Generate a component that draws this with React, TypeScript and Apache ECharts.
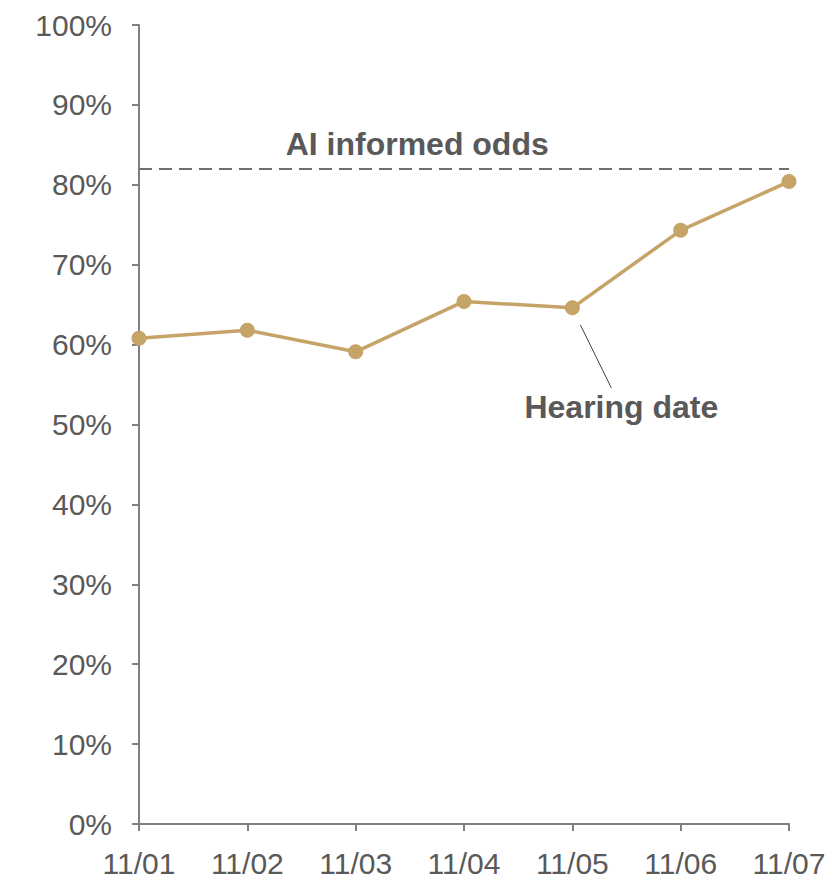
import React, { useEffect, useRef } from "react";
import * as echarts from "echarts";

const dates = ["11/01", "11/02", "11/03", "11/04", "11/05", "11/06", "11/07"];
const odds = [60.8, 61.8, 59.1, 65.4, 64.6, 74.3, 80.4];
const aiOdds = 82;
const hearingIndex = 4;
const yTicks = [0, 10, 20, 30, 40, 50, 60, 70, 80, 90, 100];

const GOLD = "#C6A468";
const TEXT = "#595959";
const AXIS = "#7F7F7F";
const FONT = "'Liberation Sans', Arial, sans-serif";

export default function App() {
  const ref = useRef<HTMLDivElement>(null);

  useEffect(() => {
    if (!ref.current) return;
    const chart = echarts.init(ref.current, null, { renderer: "svg" });
    chart.setOption({
      animation: false,
      grid: { left: 139, right: 44, top: 25, bottom: 53 },
      xAxis: {
        type: "category",
        data: dates,
        boundaryGap: false,
        axisLine: { lineStyle: { color: AXIS, width: 2 } },
        axisTick: { show: true, length: 7, lineStyle: { color: AXIS, width: 2 } },
        axisLabel: { color: TEXT, fontSize: 30, fontFamily: FONT, margin: 24 },
      },
      yAxis: {
        type: "value",
        min: yTicks[0],
        max: yTicks[yTicks.length - 1],
        interval: 10,
        splitLine: { show: false },
        axisLine: { show: true, lineStyle: { color: AXIS, width: 2 } },
        axisTick: { show: true, length: 7, lineStyle: { color: AXIS, width: 2 } },
        axisLabel: {
          color: TEXT,
          fontSize: 30,
          fontFamily: FONT,
          margin: 27,
          formatter: (v: number) => `${v}%`,
        },
      },
      series: [
        {
          type: "line",
          data: odds,
          symbol: "circle",
          symbolSize: 15,
          lineStyle: { color: GOLD, width: 3.5 },
          itemStyle: { color: GOLD },
          markLine: {
            silent: true,
            symbol: "none",
            lineStyle: { color: "#6F6F6F", type: [13, 7], width: 2 },
            label: { show: false },
            data: [{ yAxis: aiOdds }],
          },
        },
      ],
    });

    // Annotations anchored to data coordinates
    const first = chart.convertToPixel({ seriesIndex: 0 }, [0, aiOdds]) as number[];
    const last = chart.convertToPixel({ seriesIndex: 0 }, [dates.length - 1, aiOdds]) as number[];
    const hearing = chart.convertToPixel({ seriesIndex: 0 }, [hearingIndex, odds[hearingIndex]]) as number[];
    const aiX = first[0] + (last[0] - first[0]) * 0.428;

    chart.setOption({
      graphic: [
        {
          type: "text",
          x: aiX,
          y: first[1] - 9,
          style: {
            text: "AI informed odds",
            fill: TEXT,
            font: `bold 32px ${FONT}`,
            align: "center",
            verticalAlign: "bottom",
          },
        },
        {
          type: "line",
          shape: {
            x1: hearing[0] + 8,
            y1: hearing[1] + 17,
            x2: hearing[0] + 39,
            y2: hearing[1] + 80,
          },
          style: { stroke: "#404040", lineWidth: 1 },
        },
        {
          type: "text",
          x: hearing[0] + 49,
          y: hearing[1] + 99,
          style: {
            text: "Hearing date",
            fill: TEXT,
            font: `bold 32px ${FONT}`,
            align: "center",
            verticalAlign: "middle",
          },
        },
      ],
    });

    return () => chart.dispose();
  }, []);

  return (
    <div
      ref={ref}
      style={{ position: "fixed", left: 0, top: 0, width: 833, height: 878, background: "#fff" }}
    />
  );
}
